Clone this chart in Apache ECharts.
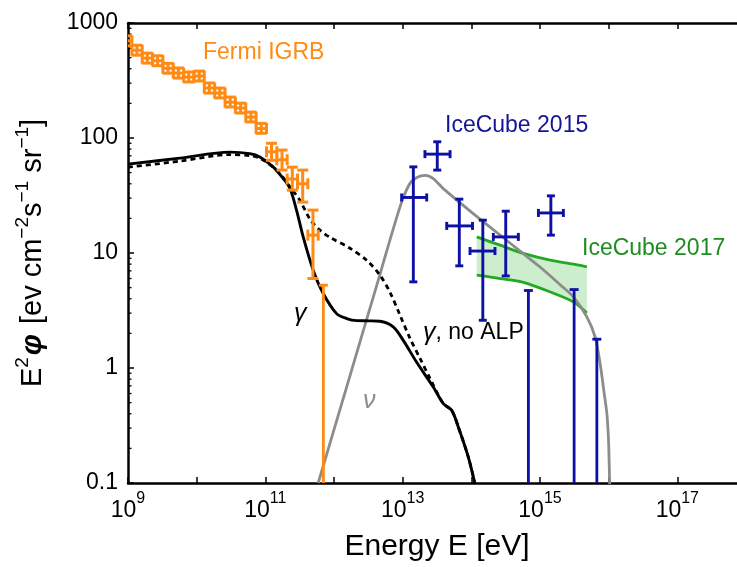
<!DOCTYPE html>
<html><head><meta charset="utf-8">
<script src="https://cdn.jsdelivr.net/npm/echarts@6/dist/echarts.min.js"></script>
<style>html,body{margin:0;padding:0;background:#fff}#c{width:737px;height:567px}</style>
</head><body><div id="c"></div>
<script>
// ---------------- data (energies in eV, fluxes in eV cm^-2 s^-1 sr^-1) ----------------
const fermiE   = [9.55e8,1.35e9,1.91e9,2.70e9,3.83e9,5.42e9,7.67e9,1.09e10,1.53e10,2.17e10,3.08e10,4.36e10,6.17e10,8.71e10,1.23e11,1.75e11,2.47e11,3.50e11,4.94e11];
const fermiElo = [8.04e8,1.14e9,1.61e9,2.28e9,3.22e9,4.56e9,6.46e9,9.12e9,1.29e10,1.83e10,2.59e10,3.66e10,5.19e10,7.33e10,1.04e11,1.47e11,2.08e11,2.94e11,4.16e11];
const fermiEhi = [1.14e9,1.61e9,2.28e9,3.22e9,4.56e9,6.46e9,9.12e9,1.29e10,1.83e10,2.59e10,3.66e10,5.19e10,7.33e10,1.04e11,1.47e11,2.08e11,2.94e11,4.16e11,5.89e11];
const fermiY   = [700,580,495,470,404,367,339,346,272,246,205,182,152,121,75.9,64.7,44,40,14.3];
const fermiYlo = [633,525,448,425,366,332,307,313,246,223,186,165,138,110,64,52.6,35.2,27.7,6.0];
const fermiYhi = [774,641,547,519,446,406,375,382,301,272,227,201,168,134,90,78.5,55.8,52.6,23.6];
const fermiUlE = [7.00e11];
const fermiUlY = [5.25];

const ic15E   = [1.43e13,3.19e13,6.68e13,1.47e14,3.17e14,1.44e15];
const ic15Elo = [9.66e12,2.11e13,4.38e13,9.57e13,2.09e14,9.48e14];
const ic15Ehi = [2.24e13,4.90e13,1.04e14,2.21e14,4.84e14,2.19e15];
const ic15Y   = [30.4,72.4,17.2,10.4,13.8,22.3];
const ic15Ylo = [5.61,52.6,7.73,2.60,6.32,14.3];
const ic15Yhi = [56.1,92.7,29.4,19.3,23.1,31.4];
const ic15UlE = [6.78e14,3.14e15,6.73e15];
const ic15UlY = [4.72,4.81,1.78];

const ic17E     = [1.20e14,2.62e14,5.73e14,1.41e15,3.09e15,4.81e15];
const ic17Upper = [13.8,11.7,9.91,8.65,8.0,7.57];
const ic17Lower = [6.41,6.00,5.55,4.58,3.75,3.01];

const gammaE = [1e9,5.68e9,3.04e10,5.94e10,8.32e10,1.30e11,1.80e11,2.28e11,2.85e11,3.56e11,4.98e11,6.97e11,1.09e12,1.53e12,2.13e12,3.2e12,4.67e12,7.29e12,1.02e13,1.60e13,2.79e13,3.91e13,5.18e13,6.46e13,9.04e13,1.13e14];
const gammaY = [59.3,66.8,75.3,73.1,68.5,56.1,44.8,36.6,23.5,13.8,7.08,4.44,2.97,2.69,2.58,2.57,2.55,2.28,1.74,1.12,0.684,0.49,0.428,0.307,0.168,0.098];

const noAlpE = [1e9,5.68e9,3.04e10,5.94e10,8.32e10,1.30e11,1.80e11,2.28e11,3.18e11,4.46e11,6.24e11,8.71e11,1.71e12,2.99e12,4.67e12,6.53e12,9.14e12,1.28e13,1.79e13,2.50e13,3.91e13,5.18e13,6.46e13,9.04e13,1.13e14];
const noAlpY = [55.8,62.9,71.8,70.3,66.8,55.8,45.7,37.6,28.8,19.7,15.8,13.7,11.0,8.65,6.41,4.56,2.88,1.81,1.21,0.813,0.49,0.428,0.307,0.168,0.098];

const nuE = [5.89e11,1.585e12,3.98e12,9.14e12,1.26e13,1.585e13,2.14e13,2.82e13,3.98e13,1.0e14,3.16e14,1.0e15,2.0e15,3.07e15,4.81e15,6.35e15,7.52e15,8.61e15,9.42e15,1.0e16,1.035e16];
const nuY = [0.1,0.736,4.71,25.2,39.8,45.2,47.3,44.2,35.9,22.7,13.1,7.55,5.25,4.15,2.78,1.86,1.09,0.60,0.401,0.22,0.098];

const yTickValues = [0.1,1,10,100,1000];
const yMinorMult  = [2,3,4,5,6,7,8,9];
const xMin = 1e9, xMax = 1e18, yMin = 0.1, yMax = 1000;

// ---------------- chart ----------------
const FONT = '"Liberation Sans", Arial, Helvetica, sans-serif';
const ORANGE = '#ff8a14', BLUE = '#0c10a4', GREEN = '#22a822', GRAY = '#8c8c8c';

function zip(...arrs){ return arrs[0].map((_, i) => arrs.map(a => a[i])); }

function errRender(cap, color, lw){
  return function(params, api){
    const E = api.value(0), y = api.value(1);
    const c = api.coord([E, y]);
    const l = api.coord([api.value(2), y]), r = api.coord([api.value(3), y]);
    const b = api.coord([E, api.value(4)]), t = api.coord([E, api.value(5)]);
    const st = {stroke: color, lineWidth: lw, lineCap: 'butt'};
    const L = (x1,y1,x2,y2) => ({type:'line', shape:{x1,y1,x2,y2}, style: st});
    return {type:'group', children:[
      L(l[0], c[1], r[0], c[1]),
      L(l[0], c[1]-cap, l[0], c[1]+cap),
      L(r[0], c[1]-cap, r[0], c[1]+cap),
      L(c[0], b[1], c[0], t[1]),
      L(c[0]-cap, b[1], c[0]+cap, b[1]),
      L(c[0]-cap, t[1], c[0]+cap, t[1])
    ]};
  };
}
function ulRender(cap, color){
  return function(params, api){
    const E = api.value(0);
    const t = api.coord([E, api.value(1)]);
    const b = api.coord([E, yMin]);
    const st = {stroke: color, lineWidth: 2.8};
    return {type:'group', children:[
      {type:'line', shape:{x1:t[0], y1:t[1], x2:b[0], y2:b[1]+3}, style: st},
      {type:'line', shape:{x1:t[0]-cap, y1:t[1], x2:t[0]+cap, y2:t[1]}, style: st}
    ]};
  };
}

const minorData = [];
yTickValues.slice(0, -1).forEach(d => yMinorMult.forEach(m => minorData.push([xMin, d*m])));

const option = {
  animation: false,
  backgroundColor: '#fff',
  grid: {left: 128, right: -9, top: 23, bottom: 84, outerBoundsMode: 'none', containLabel: false},
  xAxis: [{
    type: 'log', logBase: 10, min: xMin, max: xMax, interval: 1,
    position: 'bottom',
    axisLine: {show: true, lineStyle: {color: '#000', width: 2.5}},
    axisTick: {show: true, inside: true, length: 6, lineStyle: {color: '#000', width: 1.5}},
    splitLine: {show: false}, minorTick: {show: false},
    axisLabel: {
      margin: 8,
      formatter: v => { const e = Math.round(Math.log10(v)); return e % 2 ? '{b|10}{s|' + e + '}' : ''; },
      rich: {
        b: {fontSize: 23, fontFamily: FONT, color: '#000', padding: [8,0,0,0]},
        s: {fontSize: 16, fontFamily: FONT, color: '#000', verticalAlign: 'top'}
      }
    },
    name: 'Energy E [eV]', nameLocation: 'middle', nameGap: 49,
    nameTextStyle: {fontSize: 30, fontFamily: FONT, color: '#000'}
  },{
    type: 'log', logBase: 10, min: xMin, max: xMax, interval: 1,
    position: 'top',
    axisLine: {show: true, lineStyle: {color: '#000', width: 2.5}},
    axisTick: {show: true, inside: true, length: 6, lineStyle: {color: '#000', width: 1.5}},
    axisLabel: {show: false}, splitLine: {show: false}
  }],
  yAxis: [{
    type: 'log', logBase: 10, min: yMin, max: yMax, interval: 1,
    axisLine: {show: true, lineStyle: {color: '#000', width: 2.5}},
    axisTick: {show: true, inside: true, length: 6, lineStyle: {color: '#000', width: 1.5}},
    splitLine: {show: false},
    axisLabel: {
      margin: 10, fontSize: 23, fontFamily: FONT, color: '#000',
      formatter: v => v < 1 ? '0.1' : String(Math.round(v))
    },
    name: '{t|E}{s|2}{p|φ}{t| [ev cm}{s|−2}{t|s}{s|−1}{t| sr}{s|−1}{t|]}',
    nameLocation: 'middle', nameGap: 80, nameRotate: 90,
    nameTextStyle: {
      rich: {
        t: {fontSize: 29, fontFamily: FONT, color: '#000', padding: [5,0,0,0]},
        s: {fontSize: 19, fontFamily: FONT, color: '#000', verticalAlign: 'top'},
        p: {fontSize: 30, fontFamily: FONT, color: '#000', fontStyle: 'italic', fontWeight: 'bold', padding: [5,2,0,2]}
      }
    }
  }],
  series: [
    {type: 'custom', name: 'yMinor', clip: false, silent: true, z: 5,
     data: minorData,
     renderItem: (p, api) => { const c = api.coord([api.value(0), api.value(1)]);
       return {type: 'line', shape: {x1: c[0], y1: c[1], x2: c[0]+3.5, y2: c[1]}, style: {stroke: '#000', lineWidth: 1.3}}; }},
    {type: 'custom', name: 'IceCube 2017 band', clip: true, silent: true, z: 1,
     data: [[ic17E[0], ic17Upper[0]]],
     renderItem: (p, api) => {
       const pts = ic17E.map((e, i) => api.coord([e, ic17Upper[i]]))
         .concat(ic17E.map((e, i) => api.coord([e, ic17Lower[i]])).reverse());
       return {type: 'polygon', shape: {points: pts}, style: {fill: '#cdeecd'}};
     }},
    {type: 'line', name: 'IceCube 2017 upper', data: zip(ic17E, ic17Upper), smooth: 0.3, symbol: 'none', z: 2,
     lineStyle: {color: GREEN, width: 2.8}},
    {type: 'line', name: 'IceCube 2017 lower', data: zip(ic17E, ic17Lower), smooth: 0.3, symbol: 'none', z: 2,
     lineStyle: {color: GREEN, width: 2.8}},
    {type: 'line', name: 'nu', data: zip(nuE, nuY), smooth: 0.25, symbol: 'none', z: 3,
     lineStyle: {color: GRAY, width: 2.8}},
    {type: 'line', name: 'gamma no ALP', data: zip(noAlpE, noAlpY), smooth: 0.3, symbol: 'none', z: 3,
     lineStyle: {color: '#000', width: 2.8, type: [5, 4]}},
    {type: 'line', name: 'gamma', data: zip(gammaE, gammaY), smooth: 0.3, symbol: 'none', z: 4,
     lineStyle: {color: '#000', width: 2.9}},
    {type: 'custom', name: 'Fermi IGRB', clip: true, z: 6,
     data: zip(fermiE, fermiY, fermiElo, fermiEhi, fermiYlo, fermiYhi),
     renderItem: errRender(5.5, ORANGE, 3)},
    {type: 'custom', name: 'Fermi IGRB UL', clip: true, z: 6,
     data: zip(fermiUlE, fermiUlY), renderItem: ulRender(4.5, ORANGE)},
    {type: 'custom', name: 'IceCube 2015', clip: true, z: 7,
     data: zip(ic15E, ic15Y, ic15Elo, ic15Ehi, ic15Ylo, ic15Yhi),
     renderItem: errRender(4, BLUE, 2.9)},
    {type: 'custom', name: 'IceCube 2015 UL', clip: true, z: 7,
     data: zip(ic15UlE, ic15UlY), renderItem: ulRender(4.5, BLUE)}
  ],
  graphic: [
    {type: 'text', x: 203, y: 53, z: 100, style: {text: 'Fermi IGRB', fill: ORANGE, font: '23px ' + FONT, verticalAlign: 'middle'}},
    {type: 'text', x: 445, y: 126, z: 100, style: {text: 'IceCube 2015', fill: '#141496', font: '23px ' + FONT, verticalAlign: 'middle'}},
    {type: 'text', x: 582, y: 249, z: 100, style: {text: 'IceCube 2017', fill: '#1e8c1e', font: '23px ' + FONT, verticalAlign: 'middle'}},
    {type: 'text', x: 294, y: 314, z: 100, style: {text: 'γ', fill: '#000', font: 'italic 25px ' + FONT, verticalAlign: 'middle'}},
    {type: 'text', x: 423, y: 333, z: 100, style: {text: '{g|γ}{t|, no ALP}', verticalAlign: 'middle',
      rich: {g: {fontSize: 25, fontStyle: 'italic', fontFamily: FONT, fill: '#000'}, t: {fontSize: 23, fontFamily: FONT, fill: '#000'}}}},
    {type: 'text', x: 363, y: 401, z: 100, style: {text: 'ν', fill: GRAY, font: 'italic 25px ' + FONT, verticalAlign: 'middle'}}
  ]
};
const chart = echarts.init(document.getElementById('c'));
chart.setOption(option);
</script>
</body></html>
